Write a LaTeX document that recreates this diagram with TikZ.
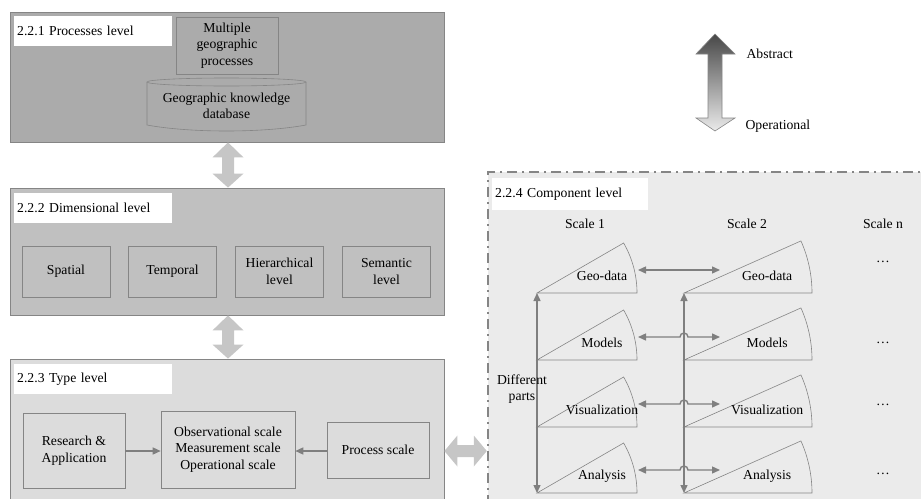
\documentclass[tikz,border=0pt]{standalone}
\usepackage{fontspec}
\setmainfont{Liberation Serif}
\usetikzlibrary{positioning, calc, arrows.meta}

\definecolor{levA}{HTML}{ABABAB}
\definecolor{levB}{HTML}{C0C0C0}
\definecolor{levC}{HTML}{DCDCDC}
\definecolor{levD}{HTML}{EBEBEB}
\definecolor{edgegray}{HTML}{858585}
\definecolor{fatgray}{HTML}{C6C6C6}
\definecolor{linkgray}{HTML}{7F7F7F}

\newcommand{\partsector}[5]{%
  \coordinate (#1) at #2;
  \draw[part] (#1) -- ++(#3,0) arc[start angle=0, end angle=-#4, radius=#3] -- cycle;
  \node (#1t) at ($(#1)+({0.65*#3},-17)$) {#5};
  \coordinate (#1o) at ($(#1)+(#3+1,-23)$);
  \coordinate (#1i) at ($(#1)+(36,-23)$);
}
\newcommand{\fatvert}[2]{%
  \fill[fatgray] (#1) -- ($(#1)+(15.5,15)$) -- ($(#1)+(6,15)$) -- ($(#2)+(6,-14)$)
    -- ($(#2)+(15.5,-14)$) -- (#2) -- ($(#2)+(-15.5,-14)$) -- ($(#2)+(-6,-14)$)
    -- ($(#1)+(-6,15)$) -- ($(#1)+(-15.5,15)$) -- cycle;
}
\newcommand{\fathorz}[2]{%
  \fill[fatgray] (#1) -- ($(#1)+(13,-15.5)$) -- ($(#1)+(13,-6)$) -- ($(#2)+(-13,-6)$)
    -- ($(#2)+(-13,-15.5)$) -- (#2) -- ($(#2)+(-13,15.5)$) -- ($(#2)+(-13,6)$)
    -- ($(#1)+(13,6)$) -- ($(#1)+(13,15.5)$) -- cycle;
}

\begin{document}
\begin{tikzpicture}[x=1pt, y=-1pt, font=\fontsize{13.7pt}{16.5pt}\selectfont,
  level/.style={draw=edgegray, line width=0.8pt, inner sep=0pt},
  tag/.style={fill=white, anchor=north west, text width=152pt, minimum height=30pt, inner sep=3pt, align=left},
  item/.style={draw=edgegray, line width=0.6pt, align=center, inner sep=0pt},
  part/.style={draw=edgegray, line width=0.6pt},
  link/.style={draw=linkgray, line width=1.4pt, -{Triangle[width=7pt,length=8pt]}},
  twolink/.style={link, {Triangle[width=7pt,length=8pt]}-{Triangle[width=7pt,length=8pt]}}]

\clip (0,0) rectangle (921,498);

\node[level, fill=levA, minimum width=434pt, minimum height=130pt] (proc) at (227,77) {};
\node[level, fill=levB, minimum width=434pt, minimum height=127pt] (dim) at (227,251.5) {};
\node[level, fill=levC, minimum width=434pt, minimum height=146pt] (type) at (227,432) {};
\node[draw=edgegray, fill=levD, line width=2.4pt, dash pattern=on 10pt off 5pt on 2pt off 5pt,
  minimum width=442pt, minimum height=333pt, inner sep=0pt] (comp) at (709,338.5) {};

\node[tag] (procT) at (14,16) {2.2.1 Processes level};
\node[tag] (dimT) at (14,193) {2.2.2 Dimensional level};
\node[tag] (typeT) at (14,364) {2.2.3 Type level};
\node[tag, text width=150pt, minimum height=32pt] (compT) at (492,178) {2.2.4 Component level};

\node[item, minimum width=102pt, minimum height=57pt] (multi) at (227,45.5) {Multiple\\geographic\\processes};
\draw[part] (226.5,82) ellipse[x radius=79.5, y radius=4];
\draw[part] (147,82) -- (147,125) .. controls (190,133) and (263,133) .. (306,125) -- (306,82);
\node[align=center] (know) at (226.5,106) {Geographic knowledge\\database};

\node[item, minimum width=88pt, minimum height=51pt] (spat) at (66,271.5) {Spatial};
\node[item, minimum width=88pt, minimum height=51pt] (temp) at (172.5,271.5) {Temporal};
\node[item, minimum width=88pt, minimum height=51pt] (hier) at (279.5,271.5) {Hierarchical\\level};
\node[item, minimum width=88pt, minimum height=51pt] (sem) at (386.5,271.5) {Semantic\\level};

\node[item, minimum width=102pt, minimum height=75pt] (res) at (74,450.5) {Research \&\\Application};
\node[item, minimum width=134pt, minimum height=77pt] (obs) at (228,449.5) {Observational scale\\Measurement scale\\Operational scale};
\node[item, minimum width=102pt, minimum height=56pt] (pscale) at (378,450) {Process scale};
\draw[link] (res.east |- 0,451) -- (obs.west |- 0,451);
\draw[link] (pscale.west |- 0,451) -- (obs.east |- 0,451);

\fatvert{$(proc.south)+(1,0)$}{$(dim.north)+(1,0)$}
\fatvert{$(dim.south)+(1,0)$}{$(type.north)+(1,0)$}
\fathorz{type.east |- 0,451}{comp.west |- 0,451}

\shade[top color=black!72, bottom color=black!8, draw=edgegray, line width=0.6pt]
  (715,34) -- (735,54) -- (722,54) -- (722,118) -- (735,118) -- (715,131)
  -- (696,118) -- (708,118) -- (708,54) -- (696,54) -- cycle;
\node[anchor=west] (abs) at (743,54) {Abstract};
\node[anchor=west] (oper) at (742,126) {Operational};

\node (s1) at (585,224) {Scale 1};
\node (s2) at (747,224) {Scale 2};
\node (sn) at (883,224) {Scale n};

\partsector{g1}{(537,293)}{100}{30}{Geo-data}
\partsector{m1}{(537,360)}{100}{30}{Models}
\partsector{v1}{(537,427)}{100}{30}{Visualization}
\partsector{a1}{(537,493)}{100}{30}{Analysis}
\partsector{g2}{(684,293)}{128}{24}{Geo-data}
\partsector{m2}{(684,360)}{128}{24}{Models}
\partsector{v2}{(684,427)}{128}{24}{Visualization}
\partsector{a2}{(684,493)}{128}{24}{Analysis}

\node (gn) at (883,262) {\ldots};
\node (mn) at (883,343) {\ldots};
\node (vn) at (883,405) {\ldots};
\node (an) at (883,474) {\ldots};

\draw[twolink] (g1) -- (a1);
\draw[twolink] (g2) -- (a2);
\draw[twolink] (g1o) -- (g2i);
\draw[twolink] (m1o) -- ($(m1o -| m2)+(-4,0)$) arc[start angle=180, end angle=360, radius=4] -- (m2i);
\draw[twolink] (v1o) -- ($(v1o -| v2)+(-4,0)$) arc[start angle=180, end angle=360, radius=4] -- (v2i);
\draw[twolink] (a1o) -- ($(a1o -| a2)+(-4,0)$) arc[start angle=180, end angle=360, radius=4] -- (a2i);

\node[align=center] (diff) at (522,389) {Different\\parts};
\end{tikzpicture}
\end{document}
